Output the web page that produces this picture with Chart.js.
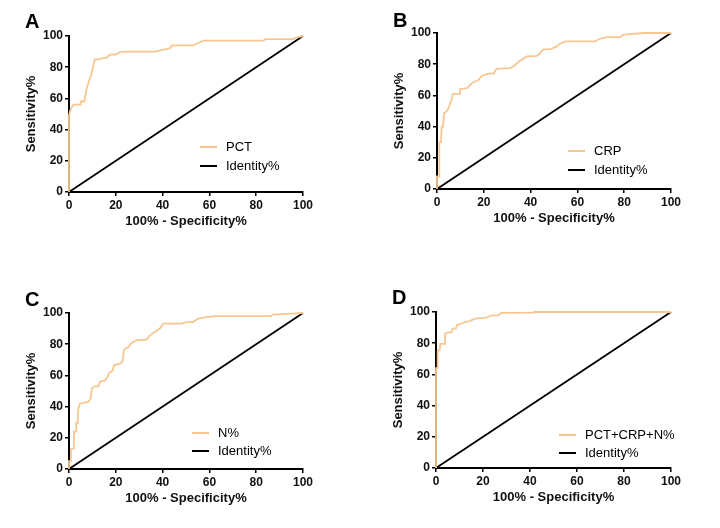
<!DOCTYPE html>
<html>
<head>
<meta charset="utf-8">
<script src="https://cdn.jsdelivr.net/npm/chart.js@4.4.1/dist/chart.umd.min.js"></script>
<style>
  body { margin: 0; background: #fff; }
  #wrap { position: relative; width: 720px; height: 528px; }
  canvas { position: absolute; }
</style>
</head>
<body>
<div id="wrap">
  <canvas id="cA" width="360" height="264" style="left:0;top:0"></canvas>
  <canvas id="cB" width="360" height="264" style="left:360px;top:0"></canvas>
  <canvas id="cC" width="360" height="264" style="left:0;top:264px"></canvas>
  <canvas id="cD" width="360" height="264" style="left:360px;top:264px"></canvas>
</div>
<script>
// ROC curve data (100% - specificity, sensitivity)
const pctX = [0, 0, 0.5, 1, 2, 5, 5, 6.5, 7, 7.5, 8.5, 9.7, 10.5, 11, 12.5, 15, 16, 17.5, 20, 21, 22.5, 37, 39.5, 43, 44, 53, 56, 57.5, 83, 84, 96, 97, 100];
const pctY = [0, 49, 52, 54, 56, 56, 58, 58, 62, 66, 71, 76, 82, 85, 85, 86, 86, 88, 88, 89, 90, 90, 91, 92, 94, 94, 96, 97, 97, 98, 98, 99, 100];

const crpX = [0, 0, 1, 1, 1.7, 2, 2.6, 3, 4, 5, 5.7, 6.4, 6.8, 9.5, 9.8, 12.8, 14.2, 15, 17.8, 19.2, 22, 24.2, 25.4, 31.3, 33, 34.2, 35.6, 38.5, 42.7, 44, 45.3, 48.4, 51.3, 52.4, 54.8, 67.7, 69, 72.6, 78.3, 79.8, 88.3, 100];
const crpY = [0, 8, 8, 30, 30, 40, 40, 48.6, 49.7, 52, 55, 58, 61, 61, 64, 64.7, 66.8, 68, 70, 72.6, 74, 74, 77, 77.5, 79, 80.7, 82.4, 85, 85.4, 87, 89.3, 89.7, 91.4, 93, 94.6, 94.6, 96, 97.4, 97.4, 99, 100, 100];

const nX = [0, 0, 0.7, 0.8, 1.8, 2.1, 3, 3.1, 3.7, 4, 4.7, 8.3, 9.2, 9.8, 10.7, 12.5, 13.2, 15.4, 16.4, 17.2, 18.6, 19.2, 21.8, 22.9, 23.5, 25.3, 26.7, 28.9, 33.1, 34.6, 36.7, 38.8, 40.3, 48, 50.2, 53, 55.2, 58.7, 62.3, 86.5, 87, 95.7, 100];
const nY = [0, 5, 5, 13, 13, 24, 24, 29.5, 29.5, 38.7, 42, 43, 45, 51.5, 53, 53, 55.8, 56.8, 59, 61.5, 63, 66.5, 67.5, 69, 76.5, 78.2, 80.8, 82.5, 83, 85.7, 87.8, 90, 93.2, 93.2, 94.2, 94.2, 96.4, 97.4, 98, 98, 99, 99.6, 100];

const comboX = [0, 0, 0.6, 0.7, 1.6, 1.8, 3.7, 3.8, 5.1, 6.5, 7, 8.4, 9, 10.8, 12.2, 14.4, 16.5, 21.5, 23.6, 26.5, 27.9, 41.4, 41.6, 100];
const comboY = [0, 64, 64, 75, 75.7, 79.6, 79.6, 86, 87, 87, 89.3, 89.3, 91.8, 92.5, 93.5, 94.2, 95.7, 96.4, 97.9, 97.9, 99.4, 99.6, 100, 100];

const identityX = [0, 100];
const identityY = [0, 100];

const xTicks = [0, 20, 40, 60, 80, 100];
const yTicks = [0, 20, 40, 60, 80, 100];

const orange = 'rgb(248,198,145)';
const fontFam = '"Liberation Sans", Arial, sans-serif';

const toPts = (xs, ys) => xs.map((x, i) => ({x: x, y: ys[i]}));

// panel letter + in-plot legend
const panelDeco = {
  id: 'panelDeco',
  afterDraw(chart, args, opts) {
    const {ctx, chartArea} = chart;
    ctx.save();
    ctx.fillStyle = '#000';
    ctx.font = 'bold 20px ' + fontFam;
    ctx.textBaseline = 'alphabetic';
    ctx.fillText(opts.letter, opts.letterX, opts.letterY);
    ctx.font = '13px ' + fontFam;
    ctx.textBaseline = 'middle';
    chart.data.datasets.forEach((ds, i) => {
      const x = chartArea.left + opts.legendX;
      const y = chartArea.top + opts.legendY + i * opts.gap;
      ctx.strokeStyle = ds.borderColor;
      ctx.lineWidth = 2;
      ctx.beginPath(); ctx.moveTo(x, y); ctx.lineTo(x + 17, y); ctx.stroke();
      ctx.fillStyle = '#000';
      ctx.fillText(ds.label, x + 26, y);
    });
    ctx.restore();
  }
};

const makeAxis = (title, isX, pad) => ({
  type: 'linear',
  min: 0, max: 100,
  afterBuildTicks: (s) => { s.ticks = (isX ? xTicks : yTicks).map(v => ({value: v})); },
  afterFit: (s) => { if (isX) s.height = 45; else s.width = 50; },
  grid: { display: true, drawOnChartArea: false, drawTicks: true, tickLength: 4, color: '#000', lineWidth: 1.5 },
  border: { display: true, color: '#000', width: 2 },
  ticks: { color: '#111', padding: 2, font: { family: fontFam, size: 12, weight: 'bold' }, maxRotation: 0 },
  title: { display: true, text: title, color: '#111', padding: pad, font: { family: fontFam, size: 13, weight: 'bold' } }
});

function makePanel(id, label, xs, ys, padding, deco) {
  new Chart(document.getElementById(id), {
    type: 'scatter',
    data: {
      datasets: [
        { label: label, data: toPts(xs, ys), showLine: true, borderColor: orange, borderWidth: 1.8, pointRadius: 0, clip: false, order: 0 },
        { label: 'Identity%', data: toPts(identityX, identityY), showLine: true, borderColor: '#000', borderWidth: 1.8, pointRadius: 0, clip: false, order: 1 }
      ]
    },
    options: {
      responsive: false,
      animation: false,
      devicePixelRatio: 1,
      layout: { padding: padding },
      plugins: { legend: { display: false }, tooltip: { enabled: false }, panelDeco: deco },
      scales: {
        x: makeAxis('100% - Specificity%', true, { top: 0, bottom: 8 }),
        y: makeAxis('Sensitivity%', false, { top: 5, bottom: 0 })
      }
    },
    plugins: [panelDeco]
  });
}

makePanel('cA', 'PCT', pctX, pctY, { left: 19, top: 36, right: 57, bottom: 27 },
  { letter: 'A', letterX: 25, letterY: 28, legendX: 131, legendY: 111, gap: 19 });
makePanel('cB', 'CRP', crpX, crpY, { left: 27, top: 33, right: 49, bottom: 30 },
  { letter: 'B', letterX: 33, letterY: 27, legendX: 131, legendY: 118, gap: 19 });
makePanel('cC', 'N%', nX, nY, { left: 19, top: 49, right: 57, bottom: 14 },
  { letter: 'C', letterX: 25, letterY: 42, legendX: 123, legendY: 120, gap: 18 });
makePanel('cD', 'PCT+CRP+N%', comboX, comboY, { left: 26, top: 48, right: 49, bottom: 15 },
  { letter: 'D', letterX: 32, letterY: 40, legendX: 123, legendY: 123, gap: 18 });
</script>
</body>
</html>
